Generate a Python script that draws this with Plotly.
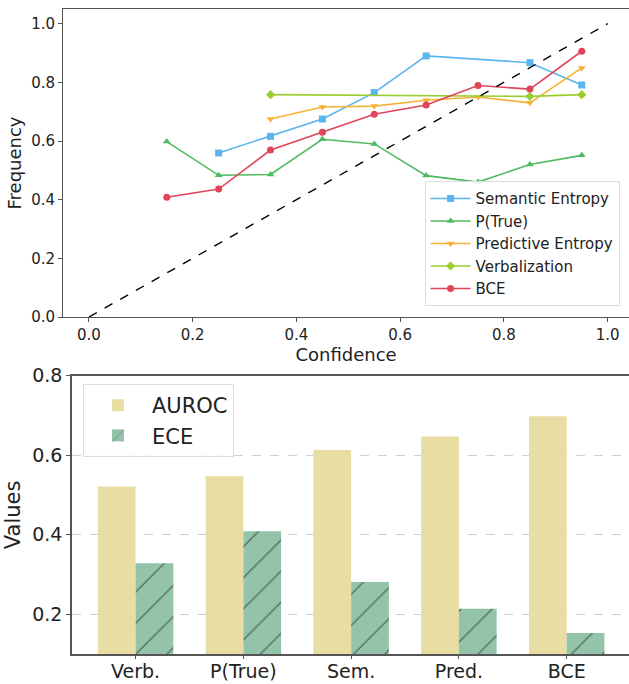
import plotly.graph_objects as go

# ---- Top: reliability diagram data ----
sem_x = [0.25, 0.35, 0.45, 0.55, 0.65, 0.85, 0.95]
sem_y = [0.559, 0.616, 0.675, 0.765, 0.890, 0.867, 0.791]
ptrue_x = [0.15, 0.25, 0.35, 0.45, 0.55, 0.65, 0.75, 0.85, 0.95]
ptrue_y = [0.598, 0.483, 0.486, 0.606, 0.590, 0.482, 0.460, 0.520, 0.551]
pred_x = [0.35, 0.45, 0.55, 0.65, 0.75, 0.85, 0.95]
pred_y = [0.675, 0.716, 0.719, 0.739, 0.750, 0.730, 0.849]
verb_x = [0.35, 0.85, 0.95]
verb_y = [0.758, 0.752, 0.758]
bce_x = [0.15, 0.25, 0.35, 0.45, 0.55, 0.65, 0.75, 0.85, 0.95]
bce_y = [0.408, 0.436, 0.569, 0.630, 0.691, 0.723, 0.789, 0.777, 0.906]
diag = [0.0, 1.0]

# ---- Bottom: bar chart data ----
methods = ["Verb.", "P(True)", "Sem.", "Pred.", "BCE"]
auroc = [0.521, 0.547, 0.613, 0.647, 0.698]
ece = [0.328, 0.409, 0.281, 0.214, 0.153]

W, H = 629, 684
FONT = "DejaVu Sans"

fig = go.Figure()

series = [
    ("Semantic Entropy", sem_x, sem_y, "#5ab4ef", "square"),
    ("P(True)", ptrue_x, ptrue_y, "#4dbb5f", "triangle-up"),
    ("Predictive Entropy", pred_x, pred_y, "#f5b335", "triangle-down"),
    ("Verbalization", verb_x, verb_y, "#9acd32", "diamond"),
    ("BCE", bce_x, bce_y, "#e0455a", "circle"),
]
for name, xs, ys, col, sym in series:
    fig.add_trace(go.Scatter(
        x=xs, y=ys, mode="lines+markers", name=name,
        line=dict(color=col, width=1.6),
        marker=dict(symbol=sym, size=7, color=col),
        xaxis="x", yaxis="y", legend="legend",
    ))

fig.add_trace(go.Scatter(
    x=diag, y=diag, mode="lines", showlegend=False,
    line=dict(color="black", width=1.4, dash="dash"),
    xaxis="x", yaxis="y",
))

idx = list(range(len(methods)))
bw = 0.35
fig.add_trace(go.Bar(
    x=[i - bw / 2 for i in idx], y=auroc, width=bw, name="AUROC",
    marker=dict(color="#e8dda3", line=dict(width=0)),
    xaxis="x2", yaxis="y2", legend="legend2",
))
fig.add_trace(go.Bar(
    x=[i + bw / 2 for i in idx], y=ece, width=bw, name="ECE",
    marker=dict(color="#93c4a9", line=dict(width=0),
                pattern=dict(shape="/", fgcolor="#222222", bgcolor="#93c4a9",
                             size=22, solidity=0.07)),
    xaxis="x2", yaxis="y2", legend="legend2",
))

axcol = "#555555"
fig.update_layout(
    width=W, height=H,
    margin=dict(l=0, r=0, t=0, b=0, autoexpand=False),
    paper_bgcolor="white", plot_bgcolor="white",
    font=dict(family=FONT, color="#222222"),
    barmode="overlay",
    xaxis=dict(
        domain=[63 / W, 1.0], anchor="y", range=[-0.05, 1.041], automargin=False,
        tickvals=[0, 0.2, 0.4, 0.6, 0.8, 1.0], ticktext=["0.0", "0.2", "0.4", "0.6", "0.8", "1.0"],
        ticks="outside", ticklen=4, tickcolor=axcol,
        showline=True, linecolor=axcol, linewidth=1, mirror=True,
        showgrid=False, zeroline=False,
        tickfont=dict(size=15),
        title=dict(text="Confidence", font=dict(size=18), standoff=0),
    ),
    yaxis=dict(
        domain=[(H - 317) / H, (H - 9) / H], anchor="x", range=[0, 1.05], automargin=False,
        tickvals=[0, 0.2, 0.4, 0.6, 0.8, 1.0], ticktext=["0.0", "0.2", "0.4", "0.6", "0.8", "1.0"],
        ticks="outside", ticklen=4, tickcolor=axcol,
        showline=True, linecolor=axcol, linewidth=1, mirror=True,
        showgrid=False, zeroline=False,
        tickfont=dict(size=15),
        title=dict(text="Frequency", font=dict(size=18), standoff=4),
    ),
    xaxis2=dict(
        domain=[72 / W, 1.0], anchor="y2", range=[-0.59, 4.578], automargin=False,
        tickvals=idx, ticktext=methods,
        ticks="outside", ticklen=3, tickcolor=axcol,
        showline=True, linecolor=axcol, linewidth=1.5, mirror=True,
        showgrid=False, zeroline=False,
        tickfont=dict(size=19), ticklabelstandoff=-4,
    ),
    yaxis2=dict(
        domain=[(H - 654) / H, (H - 375.7) / H], anchor="x2", range=[0.1, 0.8], automargin=False,
        tickvals=[0.2, 0.4, 0.6, 0.8],
        ticks="outside", ticklen=4, tickcolor=axcol,
        showline=True, linecolor=axcol, linewidth=1.5, mirror=True,
        showgrid=True, gridcolor="#d0d0d0", griddash="dash", gridwidth=0.8,
        zeroline=False,
        tickfont=dict(size=19),
        title=dict(text="Values", font=dict(size=21), standoff=6),
    ),
    legend=dict(
        x=0.985, y=0.735, xanchor="right", yanchor="top",
        bgcolor="rgba(255,255,255,0.85)", bordercolor="#dddddd", borderwidth=1,
        font=dict(size=15), tracegroupgap=0, itemwidth=40,
    ),
    legend2=dict(
        x=83 / W, y=(H - 384) / H, xanchor="left", yanchor="top",
        bgcolor="rgba(255,255,255,0.85)", bordercolor="#dddddd", borderwidth=1,
        font=dict(size=21), itemwidth=58,
    ),
)

fig.write_html("out.html", config={"displayModeBar": False},
               post_script="document.body.style.margin='0';")
